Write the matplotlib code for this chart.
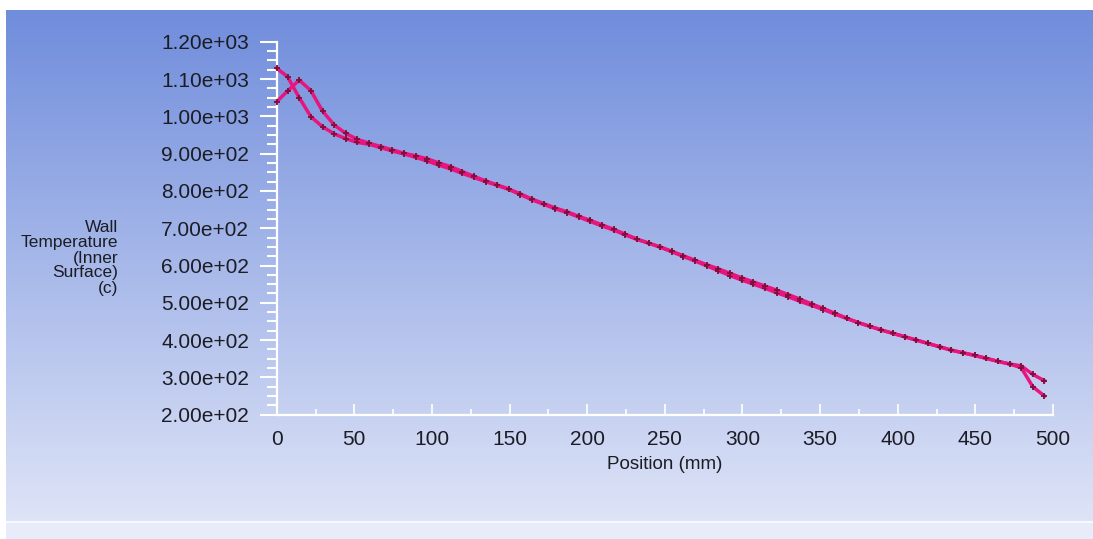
import numpy as np
import matplotlib
matplotlib.use("Agg")
import matplotlib.pyplot as plt
from matplotlib.ticker import MultipleLocator

# position along the wall (mm)
position = [0, 7, 14.5, 22, 29.5, 37, 44.5, 52, 59.5, 67, 74.5, 82, 89.5, 97,
            104.5, 112, 119.5, 127, 134.5, 142, 149.5, 157, 164.5, 172, 179.5,
            187, 194.5, 202, 209.5, 217, 224.5, 232, 239.5, 247, 254.5, 262,
            269.5, 277, 284.5, 292, 299.5, 307, 314.5, 322, 329.5, 337, 344.5,
            352, 359.5, 367, 374.5, 382, 389.5, 397, 404.5, 412, 419.5, 427,
            434.5, 442, 449.5, 457, 464.5, 472, 479.5, 487, 494.5]

# wall temperature, inner surface (c) - two wall lines
temp_a = [1129, 1106, 1050, 999, 972, 953, 940, 930, 925, 916, 907, 899, 890, 880,
          869, 859, 847, 836, 825, 815, 804, 790, 776, 764, 752,
          742, 730, 718, 706, 695, 682, 670, 660, 649, 637, 624,
          612, 599, 586, 573, 561, 550, 539, 527, 516, 504, 493,
          482, 470, 458, 447, 437, 427, 418, 409, 400, 391, 382,
          373, 366, 359, 351, 343, 336, 331, 308, 291]
temp_b = [1039, 1068, 1097, 1069, 1014, 977, 954, 938, 928, 919, 910, 901, 894, 886,
          875, 865, 852, 839, 827, 816, 805, 792, 778, 766, 754,
          744, 732, 721, 709, 697, 684, 671, 660, 650, 638, 626,
          614, 602, 591, 579, 567, 556, 545, 534, 522, 510, 497,
          485, 472, 459, 447, 437, 427, 418, 409, 400, 391, 382,
          373, 366, 359, 351, 343, 336, 326, 275, 250]

W, H = 1093, 539
fig = plt.figure(figsize=(W / 100, H / 100), dpi=100)
fig.patch.set_facecolor("white")

# gradient background like the CFD-Post viewer
bg = fig.add_axes([6 / W, 0, 1 - 6 / W, 1 - 10 / H])
bg.set_axis_off()
n = 529
top = np.array([112, 141, 220]) / 255
bot = np.array([226, 231, 248]) / 255
t = np.linspace(0, 1, n)[:, None]
grad = top * (1 - t) + bot * t
band = 511  # row of the separator line
grad[band:band + 2] = np.array([246, 248, 253]) / 255
grad[band + 2:] = np.array([231, 235, 250]) / 255
bg.imshow(grad[:, None, :], aspect="auto", extent=[0, 1, 0, 1])
bg.set_xlim(0, 1)
bg.set_ylim(0, 1)

left, right = 276.7 / W, 1053 / W
ax_top, ax_bot = 1 - 41.7 / H, 1 - 414.7 / H
ax = fig.add_axes([left, ax_bot, right - left, ax_top - ax_bot])
ax.patch.set_alpha(0)

line_col = "#e8157f"
mark_col = "#7d0f3a"
for temps in (temp_a, temp_b):
    ax.plot(position, temps, color=line_col, lw=2.5, marker="+", ms=5,
            mew=1.3, mec=mark_col, clip_on=False, zorder=3)

ax.set_xlim(0, 500)
ax.set_ylim(200, 1200)
for s in ("top", "right"):
    ax.spines[s].set_visible(False)
for s in ("left", "bottom"):
    ax.spines[s].set_color("white")
    ax.spines[s].set_linewidth(1.6)

ax.xaxis.set_major_locator(MultipleLocator(50))
ax.xaxis.set_minor_locator(MultipleLocator(25))
ax.yaxis.set_major_locator(MultipleLocator(100))
ax.yaxis.set_minor_locator(MultipleLocator(25))


def ylab(v, pos):
    e = int(np.floor(np.log10(v)))
    return "%.2fe+%02d" % (v / 10 ** e, e)


ax.yaxis.set_major_formatter(plt.FuncFormatter(ylab))

txt = "#1c1c24"
font = ["Liberation Sans", "DejaVu Sans"]
ax.tick_params(axis="y", which="major", direction="out", length=12, width=1.5,
               color="white", pad=8, labelsize=15, labelcolor=txt)
ax.tick_params(axis="y", which="minor", direction="out", length=7, width=1.5,
               color="white")
ax.tick_params(axis="x", which="major", direction="in", length=8, width=1.2,
               color="white", pad=11, labelsize=15, labelcolor=txt)
ax.tick_params(axis="x", which="minor", direction="in", length=4, width=1.2,
               color="white")
for lab in ax.get_xticklabels() + ax.get_yticklabels():
    lab.set_family(font)

ax.set_xlabel("Position (mm)", fontsize=13.5, color=txt, family=font, labelpad=5)

fig.text(118 / W, 1 - 258 / H, "Wall\nTemperature\n(Inner\nSurface)\n(c)",
         ha="right", va="center", ma="right", fontsize=12.5, color=txt,
         family=font, linespacing=1.0)

fig.savefig("out.png", dpi=100)
